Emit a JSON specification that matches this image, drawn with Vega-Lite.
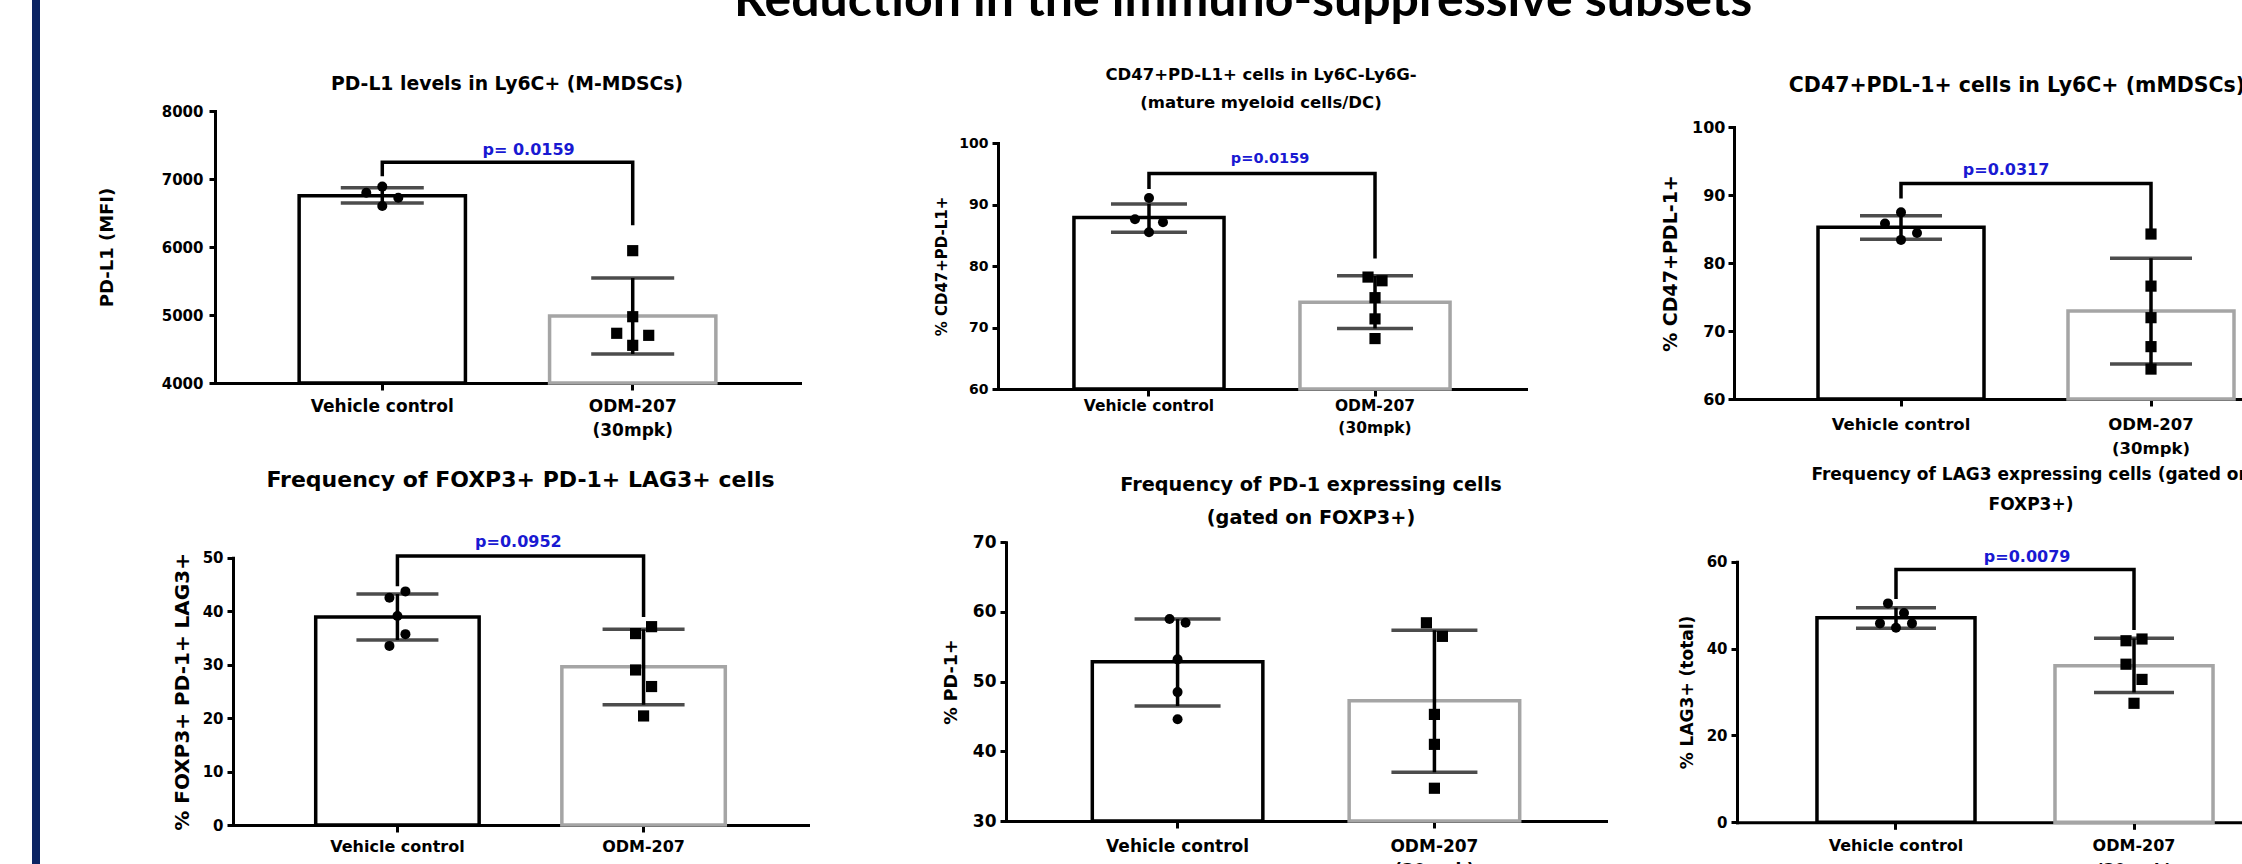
{
  "$schema": "https://vega.github.io/schema/vega-lite/v6.json",
  "background": "white",
  "padding": {"left": 32, "top": -24, "right": 0, "bottom": 0},
  "title": {"text": "Reduction in the immuno-suppressive subsets", "font": "Lato", "fontSize": 50, "fontWeight": "bold", "color": "#000", "anchor": "start", "frame": "group", "dx": 702, "offset": -66, "baseline": "alphabetic"},
  "datasets": {
    "p1b": [{"group": "Vehicle control", "mean": 6754, "lo": 6647, "hi": 6872}, {"group": "ODM-207|(30mpk)", "mean": 4985, "lo": 4426, "hi": 5544}],
    "p1p": [{"group": "Vehicle control", "value": 6799, "jit": -2}, {"group": "Vehicle control", "value": 6888, "jit": 0}, {"group": "Vehicle control", "value": 6725, "jit": 2}, {"group": "Vehicle control", "value": 6603, "jit": 0},
            {"group": "ODM-207|(30mpk)", "value": 5946, "jit": 0}, {"group": "ODM-207|(30mpk)", "value": 4975, "jit": 0}, {"group": "ODM-207|(30mpk)", "value": 4731, "jit": -2}, {"group": "ODM-207|(30mpk)", "value": 4701, "jit": 2}, {"group": "ODM-207|(30mpk)", "value": 4554, "jit": 0}],
    "p1k": [{"group": "Vehicle control", "y": 7068, "ord": 1}, {"group": "Vehicle control", "y": 7245, "ord": 2}, {"group": "ODM-207|(30mpk)", "y": 7245, "ord": 3}, {"group": "ODM-207|(30mpk)", "y": 6347, "ord": 4}],
    "p1t": [{"group": "Vehicle control", "y": 7426, "label": "p= 0.0159"}],
    "p2b": [{"group": "Vehicle control", "mean": 87.9, "lo": 85.5, "hi": 90.1}, {"group": "ODM-207|(30mpk)", "mean": 74.1, "lo": 69.85, "hi": 78.4}],
    "p2p": [{"group": "Vehicle control", "value": 91.05, "jit": 0}, {"group": "Vehicle control", "value": 87.6, "jit": -2}, {"group": "Vehicle control", "value": 87.1, "jit": 2}, {"group": "Vehicle control", "value": 85.5, "jit": 0},
            {"group": "ODM-207|(30mpk)", "value": 78.2, "jit": -1}, {"group": "ODM-207|(30mpk)", "value": 77.6, "jit": 1}, {"group": "ODM-207|(30mpk)", "value": 74.85, "jit": 0}, {"group": "ODM-207|(30mpk)", "value": 71.4, "jit": 0}, {"group": "ODM-207|(30mpk)", "value": 68.2, "jit": 0}],
    "p2k": [{"group": "Vehicle control", "y": 92.8, "ord": 1}, {"group": "Vehicle control", "y": 95.06, "ord": 2}, {"group": "ODM-207|(30mpk)", "y": 95.06, "ord": 3}, {"group": "ODM-207|(30mpk)", "y": 81.5, "ord": 4}],
    "p2t": [{"group": "Vehicle control", "y": 97.4, "label": "p=0.0159"}],
    "p3b": [{"group": "Vehicle control", "mean": 85.25, "lo": 83.5, "hi": 86.95}, {"group": "ODM-207|(30mpk)", "mean": 72.94, "lo": 65.15, "hi": 80.7}],
    "p3p": [{"group": "Vehicle control", "value": 87.45, "jit": 0}, {"group": "Vehicle control", "value": 85.8, "jit": -2}, {"group": "Vehicle control", "value": 84.4, "jit": 2}, {"group": "Vehicle control", "value": 83.4, "jit": 0},
            {"group": "ODM-207|(30mpk)", "value": 84.26, "jit": 0}, {"group": "ODM-207|(30mpk)", "value": 76.6, "jit": 0}, {"group": "ODM-207|(30mpk)", "value": 71.96, "jit": 0}, {"group": "ODM-207|(30mpk)", "value": 67.7, "jit": 0}, {"group": "ODM-207|(30mpk)", "value": 64.4, "jit": 0}],
    "p3k": [{"group": "Vehicle control", "y": 89.75, "ord": 1}, {"group": "Vehicle control", "y": 91.7, "ord": 2}, {"group": "ODM-207|(30mpk)", "y": 91.7, "ord": 3}, {"group": "ODM-207|(30mpk)", "y": 84.4, "ord": 4}],
    "p3t": [{"group": "Vehicle control", "y": 93.7, "label": "p=0.0317"}],
    "p4b": [{"group": "Vehicle control", "mean": 38.9, "lo": 34.6, "hi": 43.2}, {"group": "ODM-207|(30mpk)", "mean": 29.6, "lo": 22.5, "hi": 36.6}],
    "p4p": [{"group": "Vehicle control", "value": 42.5, "jit": -1}, {"group": "Vehicle control", "value": 43.7, "jit": 1}, {"group": "Vehicle control", "value": 39.1, "jit": 0}, {"group": "Vehicle control", "value": 35.7, "jit": 1}, {"group": "Vehicle control", "value": 33.5, "jit": -1},
            {"group": "ODM-207|(30mpk)", "value": 35.8, "jit": -1}, {"group": "ODM-207|(30mpk)", "value": 37.1, "jit": 1}, {"group": "ODM-207|(30mpk)", "value": 29.0, "jit": -1}, {"group": "ODM-207|(30mpk)", "value": 25.9, "jit": 1}, {"group": "ODM-207|(30mpk)", "value": 20.4, "jit": 0}],
    "p4k": [{"group": "Vehicle control", "y": 45, "ord": 1}, {"group": "Vehicle control", "y": 50.3, "ord": 2}, {"group": "ODM-207|(30mpk)", "y": 50.3, "ord": 3}, {"group": "ODM-207|(30mpk)", "y": 39.25, "ord": 4}],
    "p4t": [{"group": "Vehicle control", "y": 52.95, "label": "p=0.0952"}],
    "p5b": [{"group": "Vehicle control", "mean": 52.86, "lo": 46.5, "hi": 58.98}, {"group": "ODM-207|(30mpk)", "mean": 47.26, "lo": 37.0, "hi": 57.36}],
    "p5p": [{"group": "Vehicle control", "value": 59.0, "jit": -1}, {"group": "Vehicle control", "value": 58.45, "jit": 1}, {"group": "Vehicle control", "value": 53.2, "jit": 0}, {"group": "Vehicle control", "value": 48.5, "jit": 0}, {"group": "Vehicle control", "value": 44.6, "jit": 0},
            {"group": "ODM-207|(30mpk)", "value": 58.45, "jit": -1}, {"group": "ODM-207|(30mpk)", "value": 56.5, "jit": 1}, {"group": "ODM-207|(30mpk)", "value": 45.3, "jit": 0}, {"group": "ODM-207|(30mpk)", "value": 41.0, "jit": 0}, {"group": "ODM-207|(30mpk)", "value": 34.7, "jit": 0}],
    "p6b": [{"group": "Vehicle control", "mean": 47.1, "lo": 44.65, "hi": 49.4}, {"group": "ODM-207|(30mpk)", "mean": 36.05, "lo": 29.9, "hi": 42.35}],
    "p6p": [{"group": "Vehicle control", "value": 50.4, "jit": -1}, {"group": "Vehicle control", "value": 48.2, "jit": 1}, {"group": "Vehicle control", "value": 45.8, "jit": -2}, {"group": "Vehicle control", "value": 45.8, "jit": 2}, {"group": "Vehicle control", "value": 44.8, "jit": 0},
            {"group": "ODM-207|(30mpk)", "value": 41.8, "jit": -1}, {"group": "ODM-207|(30mpk)", "value": 42.2, "jit": 1}, {"group": "ODM-207|(30mpk)", "value": 36.4, "jit": -1}, {"group": "ODM-207|(30mpk)", "value": 32.9, "jit": 1}, {"group": "ODM-207|(30mpk)", "value": 27.4, "jit": 0}],
    "p6k": [{"group": "Vehicle control", "y": 51.8, "ord": 1}, {"group": "Vehicle control", "y": 58.2, "ord": 2}, {"group": "ODM-207|(30mpk)", "y": 58.2, "ord": 3}, {"group": "ODM-207|(30mpk)", "y": 44.65, "ord": 4}],
    "p6t": [{"group": "Vehicle control", "y": 61.0, "label": "p=0.0079"}]
  },
  "spacing": 0,
  "vconcat": [
    {
      "bounds": "flush",
      "spacing": 0,
      "hconcat": [
        {"width": 8, "height": 460, "view": {"fill": "#0b2463", "stroke": null}, "data": {"values": []}, "mark": "point", "encoding": {}},
        {
          "width": 860, "height": 460,
          "title": {"text": "PD-L1 levels in Ly6C+ (M-MDSCs)", "fontSize": 18.8, "anchor": "middle", "frame": "group", "dx": 37, "offset": -108.8, "baseline": "alphabetic"},
          "encoding": {"x": {"field": "group", "type": "nominal", "sort": null,
            "scale": {"domain": ["Vehicle control", "ODM-207|(30mpk)"], "range": [175, 760], "paddingInner": 0.336, "paddingOuter": 0.336},
            "axis": {"title": null, "labelAngle": 0, "labelExpr": "split(datum.label, '|')", "labelFontSize": 17, "labelLineHeight": 24, "labelPadding": 8, "tickSize": 7, "ticks": true, "offset": -77}}},
          "layer": [
            {"data": {"name": "p1b"}, "mark": {"type": "bar", "fill": "white", "strokeWidth": 3.5},
             "encoding": {"y": {"field": "mean", "type": "quantitative", "title": "PD-L1 (MFI)", "scale": {"domain": [4000, 8000], "range": [383, 111], "nice": false, "zero": false},
               "axis": {"title": "PD-L1 (MFI)", "format": "d", "values": [4000, 5000, 6000, 7000, 8000], "offset": -175, "tickSize": 6, "labelPadding": 6, "labelFontSize": 15, "titleFontSize": 18, "titleX": -107.5, "titleBaseline": "middle"}},
               "y2": {"datum": 4000},
               "stroke": {"field": "group", "type": "nominal", "scale": {"domain": ["Vehicle control", "ODM-207|(30mpk)"], "range": ["#000000", "#a5a5a5"]}, "legend": null}}},
            {"data": {"name": "p1b"}, "mark": {"type": "rule", "strokeWidth": 3.5, "color": "#000"}, "encoding": {"y": {"field": "lo", "type": "quantitative", "title": "PD-L1 (MFI)"}, "y2": {"field": "hi"}}},
            {"data": {"name": "p1b"}, "mark": {"type": "tick", "size": 83, "thickness": 3.5, "color": "#000"}, "encoding": {"y": {"field": "lo", "type": "quantitative", "title": "PD-L1 (MFI)"}}},
            {"data": {"name": "p1b"}, "mark": {"type": "tick", "size": 83, "thickness": 3.5, "color": "#000"}, "encoding": {"y": {"field": "hi", "type": "quantitative", "title": "PD-L1 (MFI)"}}},
            {"data": {"name": "p1p"}, "transform": [{"filter": "datum.jit == -2"}], "mark": {"type": "point", "filled": true, "opacity": 1, "color": "#000", "xOffset": -16},
             "encoding": {"y": {"field": "value", "type": "quantitative", "title": "PD-L1 (MFI)"},
               "shape": {"field": "group", "type": "nominal", "scale": {"domain": ["Vehicle control", "ODM-207|(30mpk)"], "range": ["circle", "square"]}, "legend": null},
               "size": {"field": "group", "type": "nominal", "scale": {"domain": ["Vehicle control", "ODM-207|(30mpk)"], "range": [100, 125]}, "legend": null}}},
            {"data": {"name": "p1p"}, "transform": [{"filter": "datum.jit == 0"}], "mark": {"type": "point", "filled": true, "opacity": 1, "color": "#000"},
             "encoding": {"y": {"field": "value", "type": "quantitative", "title": "PD-L1 (MFI)"},
               "shape": {"field": "group", "type": "nominal", "legend": null}, "size": {"field": "group", "type": "nominal", "legend": null}}},
            {"data": {"name": "p1p"}, "transform": [{"filter": "datum.jit == 2"}], "mark": {"type": "point", "filled": true, "opacity": 1, "color": "#000", "xOffset": 16},
             "encoding": {"y": {"field": "value", "type": "quantitative", "title": "PD-L1 (MFI)"},
               "shape": {"field": "group", "type": "nominal", "legend": null}, "size": {"field": "group", "type": "nominal", "legend": null}}},
            {"data": {"name": "p1k"}, "mark": {"type": "line", "color": "#000", "strokeWidth": 3.5, "strokeJoin": "miter", "strokeCap": "square"},
             "encoding": {"y": {"field": "y", "type": "quantitative", "title": "PD-L1 (MFI)"}, "order": {"field": "ord", "type": "quantitative"}}},
            {"data": {"name": "p1t"}, "mark": {"type": "text", "color": "#1919d2", "font": "DejaVu Sans", "fontWeight": "bold", "fontSize": 16, "align": "center", "baseline": "middle"},
             "encoding": {"x": {"field": "group", "type": "nominal", "bandPosition": 1.38, "title": null}, "y": {"field": "y", "type": "quantitative", "title": "PD-L1 (MFI)"}, "text": {"field": "label"}}}
          ]
        },
        {
          "width": 740, "height": 460,
          "title": {"text": ["CD47+PD-L1+ cells in Ly6C-Ly6G-", "(mature myeloid cells/DC)"], "fontSize": 16.5, "lineHeight": 28, "anchor": "middle", "frame": "group", "dx": -9, "offset": -124.5, "baseline": "alphabetic"},
          "encoding": {"x": {"field": "group", "type": "nominal", "sort": null,
            "scale": {"domain": ["Vehicle control", "ODM-207|(30mpk)"], "range": [98, 626], "paddingInner": 0.336, "paddingOuter": 0.336},
            "axis": {"title": null, "labelAngle": 0, "labelExpr": "split(datum.label, '|')", "labelFontSize": 15.5, "labelLineHeight": 22, "labelPadding": 2, "tickSize": 7, "ticks": true, "offset": -71}}},
          "layer": [
            {"data": {"name": "p2b"}, "mark": {"type": "bar", "fill": "white", "strokeWidth": 3.5},
             "encoding": {"y": {"field": "mean", "type": "quantitative", "title": "% CD47+PD-L1+", "scale": {"domain": [60, 100], "range": [389, 143], "nice": false, "zero": false},
               "axis": {"title": "% CD47+PD-L1+", "format": "d", "values": [60, 70, 80, 90, 100], "offset": -98, "tickSize": 6, "labelPadding": 4, "labelFontSize": 14, "titleFontSize": 15, "titleX": -57, "titleBaseline": "middle"}},
               "y2": {"datum": 60},
               "stroke": {"field": "group", "type": "nominal", "scale": {"domain": ["Vehicle control", "ODM-207|(30mpk)"], "range": ["#000000", "#a5a5a5"]}, "legend": null}}},
            {"data": {"name": "p2b"}, "mark": {"type": "rule", "strokeWidth": 3.5, "color": "#000"}, "encoding": {"y": {"field": "lo", "type": "quantitative", "title": "% CD47+PD-L1+"}, "y2": {"field": "hi"}}},
            {"data": {"name": "p2b"}, "mark": {"type": "tick", "size": 76, "thickness": 3.5, "color": "#000"}, "encoding": {"y": {"field": "lo", "type": "quantitative", "title": "% CD47+PD-L1+"}}},
            {"data": {"name": "p2b"}, "mark": {"type": "tick", "size": 76, "thickness": 3.5, "color": "#000"}, "encoding": {"y": {"field": "hi", "type": "quantitative", "title": "% CD47+PD-L1+"}}},
            {"data": {"name": "p2p"}, "transform": [{"filter": "datum.jit == -2"}], "mark": {"type": "point", "filled": true, "opacity": 1, "color": "#000", "xOffset": -14},
             "encoding": {"y": {"field": "value", "type": "quantitative", "title": "% CD47+PD-L1+"},
               "shape": {"field": "group", "type": "nominal", "scale": {"domain": ["Vehicle control", "ODM-207|(30mpk)"], "range": ["circle", "square"]}, "legend": null},
               "size": {"field": "group", "type": "nominal", "scale": {"domain": ["Vehicle control", "ODM-207|(30mpk)"], "range": [95, 115]}, "legend": null}}},
            {"data": {"name": "p2p"}, "transform": [{"filter": "datum.jit == -1"}], "mark": {"type": "point", "filled": true, "opacity": 1, "color": "#000", "xOffset": -7},
             "encoding": {"y": {"field": "value", "type": "quantitative", "title": "% CD47+PD-L1+"}, "shape": {"field": "group", "type": "nominal", "legend": null}, "size": {"field": "group", "type": "nominal", "legend": null}}},
            {"data": {"name": "p2p"}, "transform": [{"filter": "datum.jit == 0"}], "mark": {"type": "point", "filled": true, "opacity": 1, "color": "#000"},
             "encoding": {"y": {"field": "value", "type": "quantitative", "title": "% CD47+PD-L1+"}, "shape": {"field": "group", "type": "nominal", "legend": null}, "size": {"field": "group", "type": "nominal", "legend": null}}},
            {"data": {"name": "p2p"}, "transform": [{"filter": "datum.jit == 1"}], "mark": {"type": "point", "filled": true, "opacity": 1, "color": "#000", "xOffset": 7},
             "encoding": {"y": {"field": "value", "type": "quantitative", "title": "% CD47+PD-L1+"}, "shape": {"field": "group", "type": "nominal", "legend": null}, "size": {"field": "group", "type": "nominal", "legend": null}}},
            {"data": {"name": "p2p"}, "transform": [{"filter": "datum.jit == 2"}], "mark": {"type": "point", "filled": true, "opacity": 1, "color": "#000", "xOffset": 14},
             "encoding": {"y": {"field": "value", "type": "quantitative", "title": "% CD47+PD-L1+"}, "shape": {"field": "group", "type": "nominal", "legend": null}, "size": {"field": "group", "type": "nominal", "legend": null}}},
            {"data": {"name": "p2k"}, "mark": {"type": "line", "color": "#000", "strokeWidth": 3.5, "strokeJoin": "miter", "strokeCap": "square"},
             "encoding": {"y": {"field": "y", "type": "quantitative", "title": "% CD47+PD-L1+"}, "order": {"field": "ord", "type": "quantitative"}}},
            {"data": {"name": "p2t"}, "mark": {"type": "text", "color": "#1919d2", "font": "DejaVu Sans", "fontWeight": "bold", "fontSize": 14.5, "align": "center", "baseline": "middle"},
             "encoding": {"x": {"field": "group", "type": "nominal", "bandPosition": 1.307, "title": null}, "y": {"field": "y", "type": "quantitative", "title": "% CD47+PD-L1+"}, "text": {"field": "label"}}}
          ]
        },
        {
          "width": 690, "height": 460,
          "title": {"text": "CD47+PDL-1+ cells in Ly6C+ (mMDSCs)", "fontSize": 20.5, "anchor": "middle", "frame": "group", "dx": 32, "offset": -112, "baseline": "alphabetic"},
          "encoding": {"x": {"field": "group", "type": "nominal", "sort": null,
            "scale": {"domain": ["Vehicle control", "ODM-207|(30mpk)"], "range": [94, 678], "paddingInner": 0.336, "paddingOuter": 0.336},
            "axis": {"title": null, "labelAngle": 0, "labelExpr": "split(datum.label, '|')", "labelFontSize": 16.5, "labelLineHeight": 24, "labelPadding": 10, "tickSize": 7, "ticks": true, "offset": -61}}},
          "layer": [
            {"data": {"name": "p3b"}, "mark": {"type": "bar", "fill": "white", "strokeWidth": 3.5},
             "encoding": {"y": {"field": "mean", "type": "quantitative", "title": "% CD47+PDL-1+", "scale": {"domain": [60, 100], "range": [399, 127], "nice": false, "zero": false},
               "axis": {"title": "% CD47+PDL-1+", "format": "d", "values": [60, 70, 80, 90, 100], "offset": -94, "tickSize": 6, "labelPadding": 3, "labelFontSize": 16, "titleFontSize": 19, "titleX": -64, "titleBaseline": "middle"}},
               "y2": {"datum": 60},
               "stroke": {"field": "group", "type": "nominal", "scale": {"domain": ["Vehicle control", "ODM-207|(30mpk)"], "range": ["#000000", "#a5a5a5"]}, "legend": null}}},
            {"data": {"name": "p3b"}, "mark": {"type": "rule", "strokeWidth": 3.5, "color": "#000"}, "encoding": {"y": {"field": "lo", "type": "quantitative", "title": "% CD47+PDL-1+"}, "y2": {"field": "hi"}}},
            {"data": {"name": "p3b"}, "mark": {"type": "tick", "size": 82, "thickness": 3.5, "color": "#000"}, "encoding": {"y": {"field": "lo", "type": "quantitative", "title": "% CD47+PDL-1+"}}},
            {"data": {"name": "p3b"}, "mark": {"type": "tick", "size": 82, "thickness": 3.5, "color": "#000"}, "encoding": {"y": {"field": "hi", "type": "quantitative", "title": "% CD47+PDL-1+"}}},
            {"data": {"name": "p3p"}, "transform": [{"filter": "datum.jit == -2"}], "mark": {"type": "point", "filled": true, "opacity": 1, "color": "#000", "xOffset": -16},
             "encoding": {"y": {"field": "value", "type": "quantitative", "title": "% CD47+PDL-1+"},
               "shape": {"field": "group", "type": "nominal", "scale": {"domain": ["Vehicle control", "ODM-207|(30mpk)"], "range": ["circle", "square"]}, "legend": null},
               "size": {"field": "group", "type": "nominal", "scale": {"domain": ["Vehicle control", "ODM-207|(30mpk)"], "range": [100, 130]}, "legend": null}}},
            {"data": {"name": "p3p"}, "transform": [{"filter": "datum.jit == 0"}], "mark": {"type": "point", "filled": true, "opacity": 1, "color": "#000"},
             "encoding": {"y": {"field": "value", "type": "quantitative", "title": "% CD47+PDL-1+"}, "shape": {"field": "group", "type": "nominal", "legend": null}, "size": {"field": "group", "type": "nominal", "legend": null}}},
            {"data": {"name": "p3p"}, "transform": [{"filter": "datum.jit == 2"}], "mark": {"type": "point", "filled": true, "opacity": 1, "color": "#000", "xOffset": 16},
             "encoding": {"y": {"field": "value", "type": "quantitative", "title": "% CD47+PDL-1+"}, "shape": {"field": "group", "type": "nominal", "legend": null}, "size": {"field": "group", "type": "nominal", "legend": null}}},
            {"data": {"name": "p3k"}, "mark": {"type": "line", "color": "#000", "strokeWidth": 3.5, "strokeJoin": "miter", "strokeCap": "square"},
             "encoding": {"y": {"field": "y", "type": "quantitative", "title": "% CD47+PDL-1+"}, "order": {"field": "ord", "type": "quantitative"}}},
            {"data": {"name": "p3t"}, "mark": {"type": "text", "color": "#1919d2", "font": "DejaVu Sans", "fontWeight": "bold", "fontSize": 16, "align": "center", "baseline": "middle"},
             "encoding": {"x": {"field": "group", "type": "nominal", "bandPosition": 1.133, "title": null}, "y": {"field": "y", "type": "quantitative", "title": "% CD47+PDL-1+"}, "text": {"field": "label"}}}
          ]
        }
      ]
    },
    {
      "bounds": "flush",
      "spacing": 0,
      "hconcat": [
        {"width": 8, "height": 430, "view": {"fill": "#0b2463", "stroke": null}, "data": {"values": []}, "mark": "point", "encoding": {}},
        {
          "width": 860, "height": 430,
          "title": {"text": "Frequency of FOXP3+ PD-1+ LAG3+ cells", "fontSize": 22, "anchor": "middle", "frame": "group", "dx": 50.5, "offset": -49, "baseline": "alphabetic"},
          "encoding": {"x": {"field": "group", "type": "nominal", "sort": null,
            "scale": {"domain": ["Vehicle control", "ODM-207|(30mpk)"], "range": [193, 768], "paddingInner": 0.336, "paddingOuter": 0.336},
            "axis": {"title": null, "labelAngle": 0, "labelExpr": "split(datum.label, '|')", "labelFontSize": 16, "labelLineHeight": 24, "labelPadding": 6, "tickSize": 7, "ticks": true, "offset": -65}}},
          "layer": [
            {"data": {"name": "p4b"}, "mark": {"type": "bar", "fill": "white", "strokeWidth": 3.5},
             "encoding": {"y": {"field": "mean", "type": "quantitative", "title": "% FOXP3+ PD-1+ LAG3+", "scale": {"domain": [0, 50], "range": [365, 97.7], "nice": false, "zero": false},
               "axis": {"title": "% FOXP3+ PD-1+ LAG3+", "format": "d", "values": [0, 10, 20, 30, 40, 50], "offset": -193, "tickSize": 6, "labelPadding": 4, "labelFontSize": 15, "titleFontSize": 20, "titleX": -51, "titleBaseline": "middle"}},
               "y2": {"datum": 0},
               "stroke": {"field": "group", "type": "nominal", "scale": {"domain": ["Vehicle control", "ODM-207|(30mpk)"], "range": ["#000000", "#a5a5a5"]}, "legend": null}}},
            {"data": {"name": "p4b"}, "mark": {"type": "rule", "strokeWidth": 3.5, "color": "#000"}, "encoding": {"y": {"field": "lo", "type": "quantitative", "title": "% FOXP3+ PD-1+ LAG3+"}, "y2": {"field": "hi"}}},
            {"data": {"name": "p4b"}, "mark": {"type": "tick", "size": 82, "thickness": 3.5, "color": "#000"}, "encoding": {"y": {"field": "lo", "type": "quantitative", "title": "% FOXP3+ PD-1+ LAG3+"}}},
            {"data": {"name": "p4b"}, "mark": {"type": "tick", "size": 82, "thickness": 3.5, "color": "#000"}, "encoding": {"y": {"field": "hi", "type": "quantitative", "title": "% FOXP3+ PD-1+ LAG3+"}}},
            {"data": {"name": "p4p"}, "transform": [{"filter": "datum.jit == -1"}], "mark": {"type": "point", "filled": true, "opacity": 1, "color": "#000", "xOffset": -8},
             "encoding": {"y": {"field": "value", "type": "quantitative", "title": "% FOXP3+ PD-1+ LAG3+"},
               "shape": {"field": "group", "type": "nominal", "scale": {"domain": ["Vehicle control", "ODM-207|(30mpk)"], "range": ["circle", "square"]}, "legend": null},
               "size": {"field": "group", "type": "nominal", "scale": {"domain": ["Vehicle control", "ODM-207|(30mpk)"], "range": [100, 125]}, "legend": null}}},
            {"data": {"name": "p4p"}, "transform": [{"filter": "datum.jit == 0"}], "mark": {"type": "point", "filled": true, "opacity": 1, "color": "#000"},
             "encoding": {"y": {"field": "value", "type": "quantitative", "title": "% FOXP3+ PD-1+ LAG3+"}, "shape": {"field": "group", "type": "nominal", "legend": null}, "size": {"field": "group", "type": "nominal", "legend": null}}},
            {"data": {"name": "p4p"}, "transform": [{"filter": "datum.jit == 1"}], "mark": {"type": "point", "filled": true, "opacity": 1, "color": "#000", "xOffset": 8},
             "encoding": {"y": {"field": "value", "type": "quantitative", "title": "% FOXP3+ PD-1+ LAG3+"}, "shape": {"field": "group", "type": "nominal", "legend": null}, "size": {"field": "group", "type": "nominal", "legend": null}}},
            {"data": {"name": "p4k"}, "mark": {"type": "line", "color": "#000", "strokeWidth": 3.5, "strokeJoin": "miter", "strokeCap": "square"},
             "encoding": {"y": {"field": "y", "type": "quantitative", "title": "% FOXP3+ PD-1+ LAG3+"}, "order": {"field": "ord", "type": "quantitative"}}},
            {"data": {"name": "p4t"}, "mark": {"type": "text", "color": "#1919d2", "font": "DejaVu Sans", "fontWeight": "bold", "fontSize": 16, "align": "center", "baseline": "middle"},
             "encoding": {"x": {"field": "group", "type": "nominal", "bandPosition": 1.24, "title": null}, "y": {"field": "y", "type": "quantitative", "title": "% FOXP3+ PD-1+ LAG3+"}, "text": {"field": "label"}}}
          ]
        },
        {
          "width": 740, "height": 430,
          "title": {"text": ["Frequency of PD-1 expressing cells", "(gated on FOXP3+)"], "fontSize": 19.3, "lineHeight": 33, "anchor": "middle", "frame": "group", "dx": 41, "offset": -82.8, "baseline": "alphabetic"},
          "encoding": {"x": {"field": "group", "type": "nominal", "sort": null,
            "scale": {"domain": ["Vehicle control", "ODM-207|(30mpk)"], "range": [106, 706], "paddingInner": 0.336, "paddingOuter": 0.336},
            "axis": {"title": null, "labelAngle": 0, "labelExpr": "split(datum.label, '|')", "labelFontSize": 17, "labelLineHeight": 24, "labelPadding": 10, "tickSize": 7, "ticks": true, "offset": -69}}},
          "layer": [
            {"data": {"name": "p5b"}, "mark": {"type": "bar", "fill": "white", "strokeWidth": 3.5},
             "encoding": {"y": {"field": "mean", "type": "quantitative", "title": "% PD-1+", "scale": {"domain": [30, 70], "range": [361, 82.3], "nice": false, "zero": false},
               "axis": {"title": "% PD-1+", "format": "d", "values": [30, 40, 50, 60, 70], "offset": -106, "tickSize": 6, "labelPadding": 4, "labelFontSize": 17, "titleFontSize": 17.5, "titleX": -55, "titleBaseline": "middle"}},
               "y2": {"datum": 30},
               "stroke": {"field": "group", "type": "nominal", "scale": {"domain": ["Vehicle control", "ODM-207|(30mpk)"], "range": ["#000000", "#a5a5a5"]}, "legend": null}}},
            {"data": {"name": "p5b"}, "mark": {"type": "rule", "strokeWidth": 3.5, "color": "#000"}, "encoding": {"y": {"field": "lo", "type": "quantitative", "title": "% PD-1+"}, "y2": {"field": "hi"}}},
            {"data": {"name": "p5b"}, "mark": {"type": "tick", "size": 86, "thickness": 3.5, "color": "#000"}, "encoding": {"y": {"field": "lo", "type": "quantitative", "title": "% PD-1+"}}},
            {"data": {"name": "p5b"}, "mark": {"type": "tick", "size": 86, "thickness": 3.5, "color": "#000"}, "encoding": {"y": {"field": "hi", "type": "quantitative", "title": "% PD-1+"}}},
            {"data": {"name": "p5p"}, "transform": [{"filter": "datum.jit == -1"}], "mark": {"type": "point", "filled": true, "opacity": 1, "color": "#000", "xOffset": -8},
             "encoding": {"y": {"field": "value", "type": "quantitative", "title": "% PD-1+"},
               "shape": {"field": "group", "type": "nominal", "scale": {"domain": ["Vehicle control", "ODM-207|(30mpk)"], "range": ["circle", "square"]}, "legend": null},
               "size": {"field": "group", "type": "nominal", "scale": {"domain": ["Vehicle control", "ODM-207|(30mpk)"], "range": [105, 130]}, "legend": null}}},
            {"data": {"name": "p5p"}, "transform": [{"filter": "datum.jit == 0"}], "mark": {"type": "point", "filled": true, "opacity": 1, "color": "#000"},
             "encoding": {"y": {"field": "value", "type": "quantitative", "title": "% PD-1+"}, "shape": {"field": "group", "type": "nominal", "legend": null}, "size": {"field": "group", "type": "nominal", "legend": null}}},
            {"data": {"name": "p5p"}, "transform": [{"filter": "datum.jit == 1"}], "mark": {"type": "point", "filled": true, "opacity": 1, "color": "#000", "xOffset": 8},
             "encoding": {"y": {"field": "value", "type": "quantitative", "title": "% PD-1+"}, "shape": {"field": "group", "type": "nominal", "legend": null}, "size": {"field": "group", "type": "nominal", "legend": null}}}
          ]
        },
        {
          "width": 690, "height": 430,
          "title": {"text": ["Frequency of LAG3 expressing cells (gated on", "FOXP3+)"], "fontSize": 17, "lineHeight": 30, "anchor": "middle", "frame": "group", "dx": 46, "offset": -66.5, "baseline": "alphabetic"},
          "encoding": {"x": {"field": "group", "type": "nominal", "sort": null,
            "scale": {"domain": ["Vehicle control", "ODM-207|(30mpk)"], "range": [97, 653], "paddingInner": 0.336, "paddingOuter": 0.336},
            "axis": {"title": null, "labelAngle": 0, "labelExpr": "split(datum.label, '|')", "labelFontSize": 16, "labelLineHeight": 24, "labelPadding": 8, "tickSize": 7, "ticks": true, "offset": -67.7}}},
          "layer": [
            {"data": {"name": "p6b"}, "mark": {"type": "bar", "fill": "white", "strokeWidth": 3.5},
             "encoding": {"y": {"field": "mean", "type": "quantitative", "title": "% LAG3+ (total)", "scale": {"domain": [0, 60], "range": [362.3, 101.7], "nice": false, "zero": false},
               "axis": {"title": "% LAG3+ (total)", "format": "d", "values": [0, 20, 40, 60], "offset": -97, "tickSize": 6, "labelPadding": 4, "labelFontSize": 15, "titleFontSize": 17, "titleX": -50, "titleBaseline": "middle"}},
               "y2": {"datum": 0},
               "stroke": {"field": "group", "type": "nominal", "scale": {"domain": ["Vehicle control", "ODM-207|(30mpk)"], "range": ["#000000", "#a5a5a5"]}, "legend": null}}},
            {"data": {"name": "p6b"}, "mark": {"type": "rule", "strokeWidth": 3.5, "color": "#000"}, "encoding": {"y": {"field": "lo", "type": "quantitative", "title": "% LAG3+ (total)"}, "y2": {"field": "hi"}}},
            {"data": {"name": "p6b"}, "mark": {"type": "tick", "size": 80, "thickness": 3.5, "color": "#000"}, "encoding": {"y": {"field": "lo", "type": "quantitative", "title": "% LAG3+ (total)"}}},
            {"data": {"name": "p6b"}, "mark": {"type": "tick", "size": 80, "thickness": 3.5, "color": "#000"}, "encoding": {"y": {"field": "hi", "type": "quantitative", "title": "% LAG3+ (total)"}}},
            {"data": {"name": "p6p"}, "transform": [{"filter": "datum.jit == -2"}], "mark": {"type": "point", "filled": true, "opacity": 1, "color": "#000", "xOffset": -16},
             "encoding": {"y": {"field": "value", "type": "quantitative", "title": "% LAG3+ (total)"},
               "shape": {"field": "group", "type": "nominal", "scale": {"domain": ["Vehicle control", "ODM-207|(30mpk)"], "range": ["circle", "square"]}, "legend": null},
               "size": {"field": "group", "type": "nominal", "scale": {"domain": ["Vehicle control", "ODM-207|(30mpk)"], "range": [100, 125]}, "legend": null}}},
            {"data": {"name": "p6p"}, "transform": [{"filter": "datum.jit == -1"}], "mark": {"type": "point", "filled": true, "opacity": 1, "color": "#000", "xOffset": -8},
             "encoding": {"y": {"field": "value", "type": "quantitative", "title": "% LAG3+ (total)"}, "shape": {"field": "group", "type": "nominal", "legend": null}, "size": {"field": "group", "type": "nominal", "legend": null}}},
            {"data": {"name": "p6p"}, "transform": [{"filter": "datum.jit == 0"}], "mark": {"type": "point", "filled": true, "opacity": 1, "color": "#000"},
             "encoding": {"y": {"field": "value", "type": "quantitative", "title": "% LAG3+ (total)"}, "shape": {"field": "group", "type": "nominal", "legend": null}, "size": {"field": "group", "type": "nominal", "legend": null}}},
            {"data": {"name": "p6p"}, "transform": [{"filter": "datum.jit == 1"}], "mark": {"type": "point", "filled": true, "opacity": 1, "color": "#000", "xOffset": 8},
             "encoding": {"y": {"field": "value", "type": "quantitative", "title": "% LAG3+ (total)"}, "shape": {"field": "group", "type": "nominal", "legend": null}, "size": {"field": "group", "type": "nominal", "legend": null}}},
            {"data": {"name": "p6p"}, "transform": [{"filter": "datum.jit == 2"}], "mark": {"type": "point", "filled": true, "opacity": 1, "color": "#000", "xOffset": 16},
             "encoding": {"y": {"field": "value", "type": "quantitative", "title": "% LAG3+ (total)"}, "shape": {"field": "group", "type": "nominal", "legend": null}, "size": {"field": "group", "type": "nominal", "legend": null}}},
            {"data": {"name": "p6k"}, "mark": {"type": "line", "color": "#000", "strokeWidth": 3.5, "strokeJoin": "miter", "strokeCap": "square"},
             "encoding": {"y": {"field": "y", "type": "quantitative", "title": "% LAG3+ (total)"}, "order": {"field": "ord", "type": "quantitative"}}},
            {"data": {"name": "p6t"}, "mark": {"type": "text", "color": "#1919d2", "font": "DejaVu Sans", "fontWeight": "bold", "fontSize": 16, "align": "center", "baseline": "middle"},
             "encoding": {"x": {"field": "group", "type": "nominal", "bandPosition": 1.33, "title": null}, "y": {"field": "y", "type": "quantitative", "title": "% LAG3+ (total)"}, "text": {"field": "label"}}}
          ]
        }
      ]
    }
  ],
  "config": {
    "view": {"stroke": null},
    "axis": {"grid": false, "domainColor": "#000", "domainWidth": 3, "domainCap": "square", "tickColor": "#000", "tickWidth": 3, "labelColor": "#000", "labelFont": "DejaVu Sans", "labelFontWeight": "bold", "labelOverlap": false, "titleColor": "#000", "titleFont": "DejaVu Sans", "titleFontWeight": "bold"},
    "title": {"font": "DejaVu Sans", "fontWeight": "bold", "color": "#000"}
  }
}
